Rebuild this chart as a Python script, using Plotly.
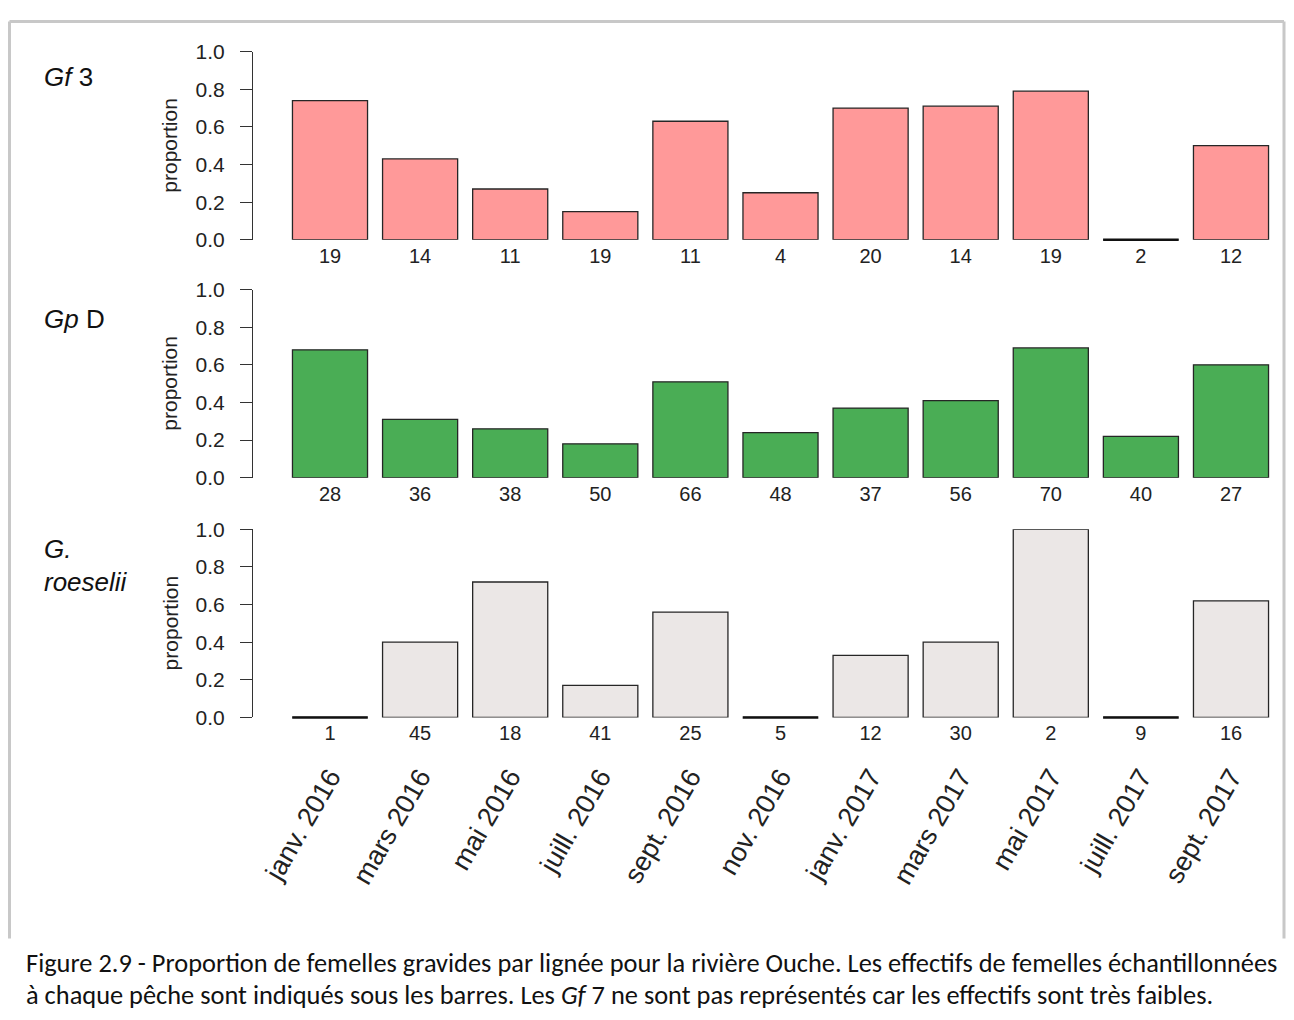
import plotly.graph_objects as go

# ---------------- data ----------------
months = ["janv. 2016", "mars 2016", "mai 2016", "juill. 2016", "sept. 2016", "nov. 2016",
          "janv. 2017", "mars 2017", "mai 2017", "juill. 2017", "sept. 2017"]

gf3_prop = [0.74, 0.43, 0.27, 0.15, 0.63, 0.25, 0.70, 0.71, 0.79, 0.00, 0.50]
gf3_n = [19, 14, 11, 19, 11, 4, 20, 14, 19, 2, 12]

gpd_prop = [0.68, 0.31, 0.26, 0.18, 0.51, 0.24, 0.37, 0.41, 0.69, 0.22, 0.60]
gpd_n = [28, 36, 38, 50, 66, 48, 37, 56, 70, 40, 27]

gr_prop = [0.00, 0.40, 0.72, 0.17, 0.56, 0.00, 0.33, 0.40, 1.00, 0.00, 0.62]
gr_n = [1, 45, 18, 41, 25, 5, 12, 30, 2, 9, 16]

y_ticks = [0, 0.2, 0.4, 0.6, 0.8, 1.0]
y_tick_labels = ["0.0", "0.2", "0.4", "0.6", "0.8", "1.0"]
caption_1 = ("Figure 2.9 - Proportion de femelles gravides par lignée pour la rivière Ouche. "
             "Les effectifs de femelles échantillonnées")
caption_2 = ("à chaque pêche sont indiqués sous les barres. Les <i>Gf</i> 7 ne sont pas "
             "représentés car les effectifs sont très faibles.")

# ---------------- layout helpers ----------------
OX = 8                      # page body margin
TY0, TYS = 18.5, 0.9785     # observed vertical placement of the figure on the page
W, H = 1278, 1020
FONT = "Liberation Sans, Arial, sans-serif"


def fy(v):
    """target picture y (px) -> figure y (px)"""
    return (v - TY0) / TYS


px_x = lambda v: (v - OX) / W
px_y = lambda v: (H - fy(v)) / H

panels = [
    dict(prop=gf3_prop, n=gf3_n, color="#ff9999", bottom=238.5, top=50.2),
    dict(prop=gpd_prop, n=gpd_n, color="#4aad55", bottom=476.7, top=288.4),
    dict(prop=gr_prop, n=gr_n, color="#ebe7e6", bottom=716.7, top=528.4),
]

x_left, x_right = 253, 1280
cat_c0, cat_step = 330, 90.1
xrange = [(x_left - cat_c0) / cat_step, (x_right - cat_c0) / cat_step]

fig = go.Figure()
layout = dict(
    width=W, height=H,
    margin=dict(l=0, r=0, t=0, b=0),
    paper_bgcolor="white", plot_bgcolor="white",
    showlegend=False,
    bargap=1 / 6,
    font=dict(family=FONT, color="#222222", size=20),
)

for i, p in enumerate(panels, start=1):
    xa = "x" if i == 1 else f"x{i}"
    ya = "y" if i == 1 else f"y{i}"
    fig.add_trace(go.Bar(
        x=months, y=p["prop"], xaxis=xa, yaxis=ya,
        marker=dict(color=p["color"], line=dict(color="#262626", width=1.3)),
        cliponaxis=False, hoverinfo="x+y",
    ))
    zero_x = [m for m, v in zip(months, p["prop"]) if v == 0]
    zero_y = [v for v in p["prop"] if v == 0]
    if zero_x:
        # zero-height bars show only their outline: a short black rule
        fig.add_trace(go.Scatter(
            x=zero_x, y=zero_y, xaxis=xa, yaxis=ya, mode="markers",
            marker=dict(symbol="line-ew", size=54, line=dict(color="#111111", width=2.6)),
            cliponaxis=False, hoverinfo="skip",
        ))
    dom_y = [px_y(p["bottom"]), px_y(p["top"])]
    layout["xaxis" if i == 1 else f"xaxis{i}"] = dict(
        domain=[px_x(x_left), px_x(x_right)], anchor=ya, type="category",
        categoryorder="array", categoryarray=months, range=xrange,
        tickmode="array", tickvals=months, ticktext=[str(v) for v in p["n"]],
        showline=False, showgrid=False, zeroline=False, ticks="",
        ticklabelstandoff=2,
        tickfont=dict(size=20, family=FONT, color="#222222"),
    )
    layout["yaxis" if i == 1 else f"yaxis{i}"] = dict(
        domain=dom_y, anchor=xa, range=[0, 1],
        tickmode="array", tickvals=y_ticks, ticktext=y_tick_labels,
        showline=True, linecolor="#333333", linewidth=1.2,
        ticks="outside", ticklen=12, tickwidth=1.2, tickcolor="#333333",
        ticklabelstandoff=11,
        showgrid=False, zeroline=False,
        tickfont=dict(size=21, family=FONT, color="#222222"),
    )

# month labels on an overlaying axis below the third panel
fig.add_trace(go.Scatter(
    x=months, y=[0] * len(months), xaxis="x4", yaxis="y3", mode="markers",
    marker=dict(opacity=0), hoverinfo="skip",
))
layout["xaxis4"] = dict(
    overlaying="x3", anchor="free", position=px_y(754), side="bottom",
    type="category", categoryorder="array", categoryarray=months, range=xrange,
    tickmode="array", tickvals=months, ticktext=months, tickangle=-60,
    showline=False, showgrid=False, zeroline=False, ticks="",
    tickfont=dict(size=27, family=FONT, color="#222222"),
)

annotations = []
# y titles
for p in panels:
    annotations.append(dict(
        x=px_x(170), y=px_y((p["bottom"] + p["top"]) / 2), xref="paper", yref="paper",
        text="proportion", textangle=-90, showarrow=False,
        font=dict(size=21, family=FONT, color="#222222"),
        xanchor="center", yanchor="middle",
    ))
# panel names
name_pos = [("<i>Gf</i> 3", 76), ("<i>Gp</i> D", 318), ("<i>G.</i>", 548), ("<i>roeselii</i>", 581)]
for txt, yy in name_pos:
    annotations.append(dict(
        x=px_x(42), y=px_y(yy), xref="paper", yref="paper", text=txt, showarrow=False,
        xanchor="left", yanchor="middle",
        font=dict(size=26, family=FONT, color="#111111"),
    ))
# caption
for txt, yy in [(caption_1, 963), (caption_2, 995)]:
    annotations.append(dict(
        x=px_x(24), y=px_y(yy), xref="paper", yref="paper", text=txt, showarrow=False,
        xanchor="left", yanchor="middle",
        font=dict(size=26.4, family="Carlito, Calibri, Lato, sans-serif", color="#111111"),
    ))
layout["annotations"] = annotations

# figure frame (light grey outline of the figure image)
frame = "#c8c8c8"
left_x, right_x, bot_y = 9.5, 1284, 938
top_fig = 1.5
layout["shapes"] = [
    dict(type="line", xref="paper", yref="paper", x0=px_x(left_x), x1=px_x(right_x),
         y0=(H - top_fig) / H, y1=(H - top_fig) / H, line=dict(color=frame, width=3)),
    dict(type="line", xref="paper", yref="paper", x0=px_x(left_x), x1=px_x(left_x),
         y0=(H - top_fig) / H, y1=px_y(bot_y), line=dict(color=frame, width=3)),
    dict(type="line", xref="paper", yref="paper", x0=px_x(right_x), x1=px_x(right_x),
         y0=(H - top_fig) / H, y1=px_y(bot_y), line=dict(color=frame, width=3)),
]

fig.update_layout(**layout)
fig.write_html("out.html")
